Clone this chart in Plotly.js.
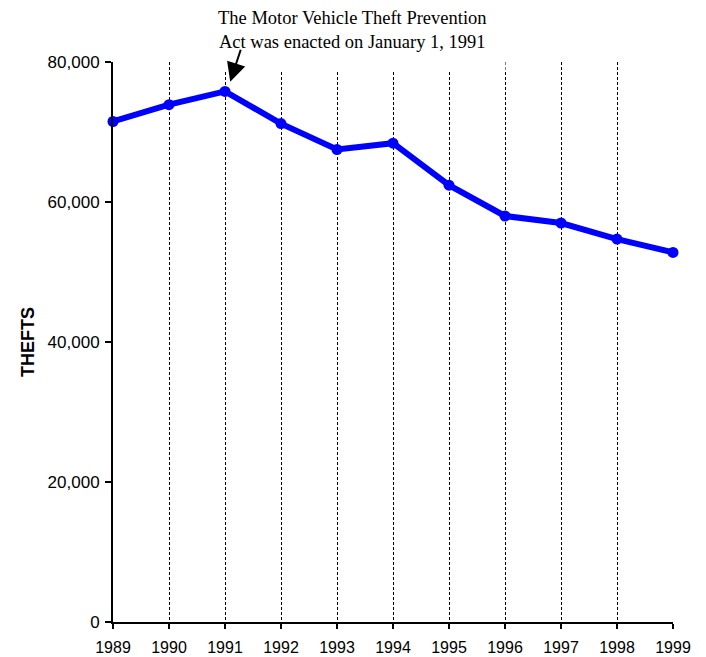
<!DOCTYPE html>
<html>
<head>
<meta charset="utf-8">
<script src="https://cdn.plot.ly/plotly-3.0.1.min.js"></script>
<style>html,body{margin:0;padding:0;background:#fff;}#chart{width:706px;height:657px;}</style>
</head>
<body>
<div id="chart"></div>
<script>
const years = [1989, 1990, 1991, 1992, 1993, 1994, 1995, 1996, 1997, 1998, 1999];
const yearLabels = ["1989","1990","1991","1992","1993","1994","1995","1996","1997","1998","1999"];
const gridYears = [1990, 1991, 1992, 1993, 1994, 1995, 1996, 1997, 1998];
const thefts = [71500, 73900, 75800, 71200, 67500, 68400, 62400, 58000, 57000, 54700, 52800];
const yTicks = [0, 20000, 40000, 60000, 80000];
const noteText = "The Motor Vehicle Theft Prevention<br>Act was enacted on January 1, 1991";

const gridTrace = {x: [], y: [], xaxis: 'x2', yaxis: 'y', type: 'scatter', mode: 'lines', hoverinfo: 'skip'};
const trace = {
  x: years, y: thefts, type: 'scatter', mode: 'lines+markers',
  line: {color: '#0000FF', width: 6},
  marker: {color: '#0000FF', size: 11},
  cliponaxis: false, hoverinfo: 'x+y'
};

const sans = 'Arial, Liberation Sans, sans-serif';
const layout = {
  width: 706, height: 657,
  margin: {l: 113, r: 33, t: 62, b: 35},
  paper_bgcolor: '#fff', plot_bgcolor: '#fff',
  showlegend: false,
  font: {family: sans, color: '#000'},
  xaxis: {
    range: [1989, 1999], tickvals: years, ticktext: yearLabels,
    showline: true, linecolor: '#000', linewidth: 2,
    ticks: 'outside', ticklen: 5, tickwidth: 2, tickcolor: '#000',
    showgrid: false, zeroline: false,
    tickfont: {size: 16, family: sans},
    ticklabelstandoff: 5, fixedrange: true
  },
  xaxis2: {
    overlaying: 'x', anchor: 'y', side: 'bottom',
    range: [1989, 1999], tickvals: gridYears,
    showticklabels: false, ticks: '', showline: false,
    showgrid: true, gridcolor: '#000', gridwidth: 1, griddash: '3px,2px',
    zeroline: false, fixedrange: true
  },
  yaxis: {
    range: [0, 80000], tickvals: yTicks, tickformat: ',',
    showline: true, linecolor: '#000', linewidth: 2,
    ticks: 'outside', ticklen: 6, tickwidth: 2, tickcolor: '#000',
    showgrid: false, zeroline: false,
    tickfont: {size: 17, family: sans},
    ticklabelstandoff: 2,
    title: {text: '<b>THEFTS</b>', font: {size: 18, family: sans}, standoff: 8},
    fixedrange: true
  },
  annotations: [
    {
      xref: 'paper', yref: 'paper', x: 0.427, y: 1.057,
      xanchor: 'center', yanchor: 'middle',
      text: noteText, showarrow: false,
      font: {family: 'Liberation Serif, Times New Roman, serif', size: 18.5, color: '#000'},
      bgcolor: '#fff', borderpad: 18, align: 'center'
    },
    {
      xref: 'x', yref: 'y', x: 1991.093, y: 77186,
      ax: 11, ay: -33.5, text: '', showarrow: true,
      arrowhead: 2, arrowsize: 1.9, arrowwidth: 2, arrowcolor: '#000'
    }
  ]
};

Plotly.newPlot('chart', [gridTrace, trace], layout, {staticPlot: true, displayModeBar: false});
</script>
</body>
</html>
